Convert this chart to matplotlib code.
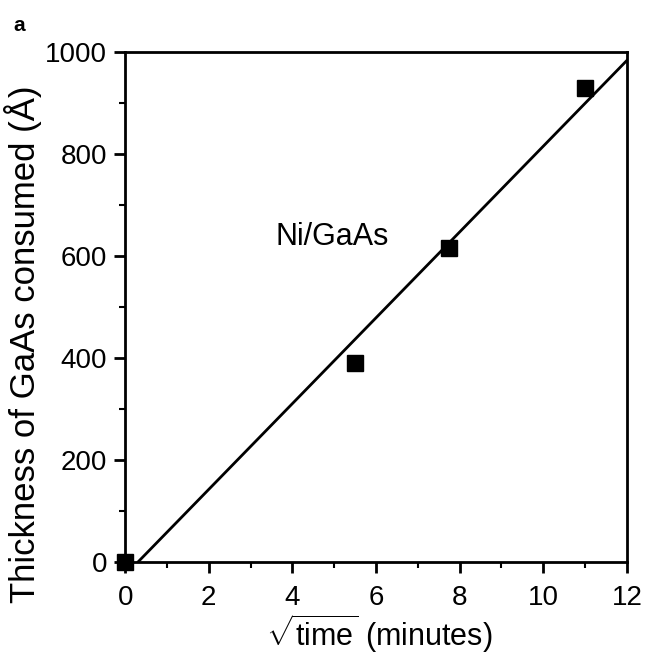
import matplotlib
matplotlib.use('Agg')
import matplotlib.pyplot as plt
import numpy as np
from matplotlib.ticker import MultipleLocator

plt.rcParams['font.family'] = ['Liberation Sans', 'DejaVu Sans']
plt.rcParams['mathtext.fontset'] = 'custom'
plt.rcParams['mathtext.rm'] = 'Liberation Sans'
plt.rcParams['mathtext.it'] = 'Liberation Sans:italic'

# sqrt(time) in minutes vs thickness consumed (Å)
sqrt_time = [0.0, 5.5, 7.75, 11.0]
thickness = [0, 390, 615, 930]

x_ticks = [0, 2, 4, 6, 8, 10, 12]
y_ticks = [0, 200, 400, 600, 800, 1000]

slope, icpt = np.polyfit(sqrt_time, thickness, 1)
x_fit = np.array([-icpt / slope, 12])

fig = plt.figure(figsize=(6.45, 6.57), dpi=100)
ax = fig.add_axes([0.194, 0.145, 0.778, 0.776])

ax.plot(x_fit, slope * x_fit + icpt, color='black', lw=2)
ax.plot(sqrt_time, thickness, 's', color='black', ms=11.5, clip_on=False)

ax.set_xlim(0, 12)
ax.set_ylim(0, 1000)
ax.set_xticks(x_ticks)
ax.set_yticks(y_ticks)
ax.xaxis.set_minor_locator(MultipleLocator(1))
ax.yaxis.set_minor_locator(MultipleLocator(100))
ax.tick_params(which='major', direction='out', length=8, width=2, labelsize=20, pad=5)
ax.tick_params(axis='x', which='major', pad=8.5)
ax.tick_params(which='minor', direction='out', length=4, width=1.5)
for s in ax.spines.values():
    s.set_linewidth(2)

ax.set_xlabel(r'$\sqrt{\mathrm{time}}$ (minutes)', fontsize=22)
ax.xaxis.set_label_coords(0.506, -0.098)
ax.set_ylabel('Thickness of GaAs consumed (Å)', fontsize=25)
ax.yaxis.set_label_coords(-0.165, 0.427)
ax.text(3.6, 637, 'Ni/GaAs', fontsize=22, va='center')
fig.text(0.02, 0.975, 'a', fontsize=15, fontweight='bold', va='top')

fig.savefig('out.png', dpi=100)
